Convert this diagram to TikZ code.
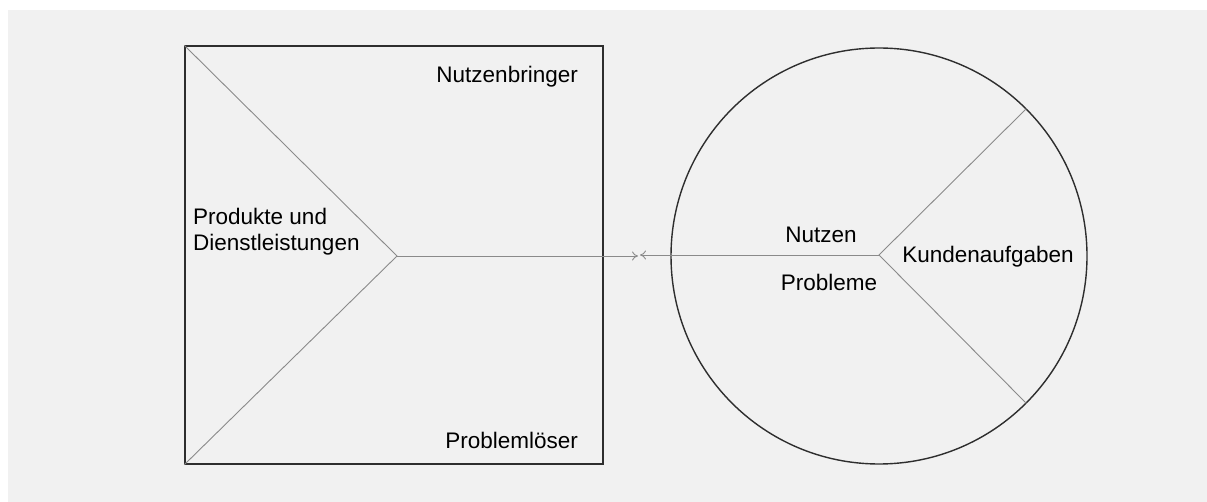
\documentclass[tikz,border=0pt]{standalone}
\usepackage{fontspec}
\setmainfont{Liberation Sans}
\usetikzlibrary{arrows.meta}
\definecolor{bg}{HTML}{F1F1F1}
\definecolor{outline}{HTML}{2E2E2E}
\definecolor{inner}{HTML}{8A8A8A}
\begin{document}
\begin{tikzpicture}[x=1pt,y=-1pt,
  frame/.style={draw=outline,line width=1.4pt,inner sep=0pt},
  split/.style={draw=inner,line width=0.9pt},
  label/.style={inner sep=0pt,font=\fontsize{22.5}{26}\selectfont,text=black},
  tip/.style={-{To[length=6pt,width=9pt]}}]
  \useasboundingbox (0,0) rectangle (1207,502);
  \fill[bg] (8,10) rectangle (1207,502);

  % value map square and customer profile circle
  \node[frame,rectangle,minimum size=418pt] (box) at (394,255) {};
  \node[frame,circle,minimum size=416pt] (circ) at (879,256) {};

  % junction points
  \coordinate (pj) at (397,256);
  \coordinate (cj) at (879,255);
  \coordinate (mL) at (638,256);
  \coordinate (mR) at (640,255);

  % splits of the square
  \draw[split] (box.north west) -- (pj) -- (box.south west);
  % splits of the circle
  \draw[split] (circ.45) -- (cj) -- (circ.-45);

  % fit connector
  \draw[split,tip] (pj) -- (mL);
  \draw[split,tip] (cj) -- (mR);

  % labels
  \node[label,anchor=base east] (nb) at (578,83) {Nutzenbringer};
  \node[label,anchor=base east] (pl) at (578,448) {Problemlöser};
  \node[label,anchor=base west,align=left] (pd) at (193,251) {Produkte und\\Dienstleistungen};
  \node[label,anchor=base] (nu) at (821,243) {Nutzen};
  \node[label,anchor=base] (pr) at (829,291) {Probleme};
  \node[label,anchor=base] (ka) at (988,263) {Kundenaufgaben};
\end{tikzpicture}
\end{document}
